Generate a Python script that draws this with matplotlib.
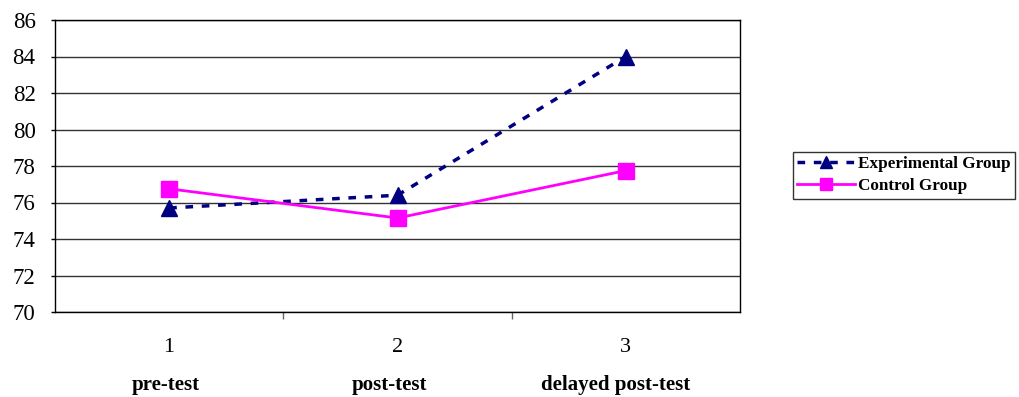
import matplotlib
matplotlib.use("Agg")
import matplotlib.pyplot as plt

# data
tests = [1, 2, 3]
stage_labels = ["pre-test", "post-test", "delayed post-test"]
stage_label_x = [0.987, 1.965, 2.956]
experimental = [75.7, 76.4, 84.0]
control = [76.75, 75.15, 77.75]
y_ticks = [70, 72, 74, 76, 78, 80, 82, 84, 86]

plt.rcParams['font.family'] = ['Liberation Serif', 'DejaVu Serif']

fig = plt.figure(figsize=(10.19, 3.97), dpi=100)
ax = fig.add_axes([55 / 1019, 1 - 312 / 397, 685 / 1019, 292 / 397])

ax.plot(tests, experimental, color='#000080', linestyle=(0, (2.2, 2.5)), linewidth=2.5,
        marker='^', markersize=12, label='Experimental Group', zorder=3)
ax.plot(tests, control, color='#FF00FF', linestyle='-', linewidth=2,
        marker='s', markersize=11, label='Control Group', zorder=3)

ax.set_xlim(0.5, 3.5)
ax.set_ylim(70, 86)
ax.set_yticks(y_ticks)
ax.set_yticklabels([str(v) for v in y_ticks], fontsize=16.5)
ax.yaxis.grid(True, color='#333333', linewidth=1)
ax.set_axisbelow(True)
ax.tick_params(axis='y', direction='out', length=3, width=1, pad=11)

# category ticks at boundaries, labels at centres
ax.set_xticks([1.5, 2.5])
ax.set_xticklabels([])
ax.tick_params(axis='x', direction='out', length=5, width=1, color='#666666')
for x, lx, lab in zip(tests, stage_label_x, stage_labels):
    ax.text(x, -0.12, str(x), transform=ax.get_xaxis_transform(), ha='center', va='center', fontsize=16)
    ax.text(lx, -0.25, lab, transform=ax.get_xaxis_transform(), ha='center', va='center',
            fontsize=15, fontweight='bold')

for s in ax.spines.values():
    s.set_color('#000000')
    s.set_linewidth(1)

leg = fig.legend(loc='upper left', bbox_to_anchor=(793 / 1019, 1 - 152 / 397),
                 prop={'weight': 'bold', 'size': 12.3}, frameon=True, fancybox=False,
                 edgecolor='#000000', handlelength=3.4, borderpad=0.25, labelspacing=0.35,
                 handletextpad=0.15, borderaxespad=0, markerscale=0.75)
leg.get_frame().set_linewidth(1)

fig.savefig("out.png", dpi=100)
